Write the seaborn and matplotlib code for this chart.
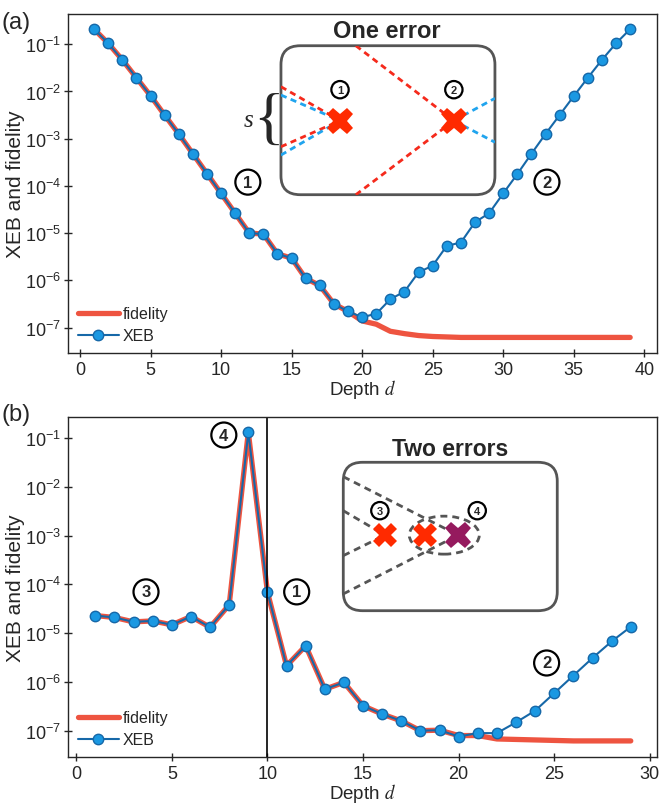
import numpy as np
import pandas as pd
import seaborn as sns
import matplotlib
matplotlib.use("Agg")
from matplotlib import pyplot as plt
from matplotlib.patches import FancyBboxPatch, Ellipse
from matplotlib.ticker import NullLocator

# ---- data (log10 values) ----
depth_a = np.arange(1, 40)
xeb_a_log = [-0.68, -0.98, -1.33, -1.71, -2.09, -2.50, -2.90, -3.32, -3.74, -4.16,
             -4.58, -5.00, -5.02, -5.44, -5.53, -5.96, -6.11, -6.50, -6.66, -6.78,
             -6.71, -6.40, -6.24, -5.83, -5.69, -5.27, -5.20, -4.77, -4.58, -4.16,
             -3.75, -3.32, -2.90, -2.50, -2.10, -1.71, -1.33, -0.98, -0.68]
fid_a_log = [-0.68, -0.98, -1.33, -1.71, -2.09, -2.50, -2.90, -3.32, -3.74, -4.16,
             -4.58, -5.00, -5.02, -5.44, -5.53, -5.96, -6.11, -6.50, -6.66, -6.86,
             -6.93, -7.08, -7.13, -7.17, -7.19, -7.20, -7.21, -7.21, -7.21, -7.21,
             -7.21, -7.21, -7.21, -7.21, -7.21, -7.21, -7.21, -7.21, -7.21]

depth_b = np.arange(1, 30)
xeb_b_log = [-4.64, -4.68, -4.77, -4.75, -4.83, -4.66, -4.88, -4.42, -0.88, -4.16,
             -5.67, -5.26, -6.15, -6.01, -6.49, -6.66, -6.80, -7.00, -6.99, -7.12,
             -7.05, -7.05, -6.83, -6.59, -6.23, -5.87, -5.51, -5.17, -4.87]
fid_b_log = [-4.64, -4.68, -4.77, -4.75, -4.83, -4.66, -4.88, -4.42, -0.88, -4.16,
             -5.67, -5.26, -6.15, -6.01, -6.49, -6.66, -6.80, -7.00, -6.99, -7.10,
             -7.10, -7.17, -7.18, -7.19, -7.20, -7.21, -7.21, -7.21, -7.21]

yticks = [1e-7, 1e-6, 1e-5, 1e-4, 1e-3, 1e-2, 1e-1]

df_a = pd.DataFrame({"depth": depth_a, "xeb": 10.0 ** np.array(xeb_a_log),
                     "fidelity": 10.0 ** np.array(fid_a_log)})
df_b = pd.DataFrame({"depth": depth_b, "xeb": 10.0 ** np.array(xeb_b_log),
                     "fidelity": 10.0 ** np.array(fid_b_log)})

RED = "#ee5440"
BLUE_LINE = "#1668a8"
BLUE_FACE = "#1a98e2"

sns.set_style("ticks")
plt.rcParams["font.family"] = ["Liberation Sans", "DejaVu Sans"]
plt.rcParams["mathtext.fontset"] = "stix"

fig = plt.figure(figsize=(6.62, 8.04), dpi=100)
ax1 = fig.add_axes([0.1027, 0.5597, 0.8897, 0.4216])
ax2 = fig.add_axes([0.1027, 0.0572, 0.8897, 0.4229])


def draw_panel(ax, df):
    sns.lineplot(data=df, x="depth", y="fidelity", ax=ax, color=RED, lw=3.8,
                 label="fidelity")
    sns.lineplot(data=df, x="depth", y="xeb", ax=ax, color=BLUE_LINE, lw=1.5,
                 marker="o", markersize=7.5, markerfacecolor=BLUE_FACE,
                 markeredgecolor=BLUE_LINE, markeredgewidth=1.0, label="XEB")
    ax.set_yscale("log")
    ax.set_yticks(yticks)
    ax.yaxis.set_minor_locator(NullLocator())
    ax.set_xlabel("Depth $d$", fontsize=13.5)
    ax.xaxis.set_label_coords(0.5, -0.07)
    ax.set_ylabel("XEB and fidelity", fontsize=15, labelpad=0)
    ax.tick_params(axis="both", labelsize=13, direction="inout", length=6, width=1)
    ax.tick_params(axis="y", pad=2)
    ax.tick_params(axis="x", pad=3)
    for s in ax.spines.values():
        s.set_linewidth(1.0)
    ax.legend(loc="lower left", frameon=False, fontsize=11.5, handlelength=2.6,
              handletextpad=0.2, borderaxespad=0.2, labelspacing=0.45)


def circ(ax, x, y, t, size=12, pad=0.3):
    ax.text(x, y, t, fontsize=size, fontweight="bold", ha="center", va="center",
            bbox=dict(boxstyle=f"circle,pad={pad}", fc="white", ec="black", lw=1.6))


# ---- panel (a) ----
draw_panel(ax1, df_a)
ax1.set_xlim(-0.85, 40.9)
ax1.set_ylim(10 ** -7.54, 10 ** -0.36)
ax1.set_xticks([0, 5, 10, 15, 20, 25, 30, 35, 40])
circ(ax1, 11.9, 1.2e-4, "1")
circ(ax1, 33.1, 1.2e-4, "2")

ins1 = ax1.inset_axes([0.3616, 0.467, 0.3633, 0.4395])
ins1.set_xlim(0, 1)
ins1.set_ylim(0, 1)
ins1.axis("off")
ins1.add_patch(FancyBboxPatch((0, 0), 1, 1, boxstyle="round,pad=0,rounding_size=0.09",
                              fc="white", ec="#555555", lw=2, transform=ins1.transAxes,
                              mutation_aspect=1.4, clip_on=False))
dash = dict(ls=(0, (2.2, 1.6)), lw=2)
x1, x2, yc = 0.276, 0.808, 0.497
for v in (0.725, 0.322):
    ins1.plot([0, x1], [v, yc], color="#f52a1c", **dash)
for v in (0.669, 0.266):
    ins1.plot([0, x1], [v, yc], color="#20a4ee", **dash)
ins1.plot([0.35, x2], [1.0, yc], color="#f52a1c", **dash)
ins1.plot([0.35, x2], [0.0, yc], color="#f52a1c", **dash)
for v in (0.647, 0.352):
    ins1.plot([x2, 1], [yc, v], color="#20a4ee", **dash)
ins1.plot([x1, x2], [yc, yc], ls="none", marker="X", markersize=19,
          color="#ff2a00", markeredgewidth=0)
circ(ins1, x1, 0.705, "1", size=8, pad=0.33)
circ(ins1, x2, 0.705, "2", size=8, pad=0.33)
ins1.text(0.494, 1.10, "One error", fontsize=17, fontweight="bold",
          ha="center", va="center")
ins1.text(-0.06, 0.49, "{", fontsize=46, ha="center", va="center",
          family="Liberation Serif")
ins1.text(-0.15, 0.50, "s", fontsize=18, ha="center", va="center",
          family="Liberation Serif", style="italic")

# ---- panel (b) ----
draw_panel(ax2, df_b)
ax2.set_xlim(-0.43, 30.37)
ax2.set_ylim(10 ** -7.54, 10 ** -0.57)
ax2.set_xticks([0, 5, 10, 15, 20, 25, 30])
ax2.axvline(10, color="black", lw=1.2)
circ(ax2, 3.65, 7e-5, "3")
circ(ax2, 7.72, 0.115, "4")
circ(ax2, 11.53, 7e-5, "1")
circ(ax2, 24.6, 2.44e-6, "2")

ins2 = ax2.inset_axes([0.4674, 0.4303, 0.3633, 0.4365])
ins2.set_xlim(0, 1)
ins2.set_ylim(0, 1)
ins2.axis("off")
ins2.add_patch(FancyBboxPatch((0, 0), 1, 1, boxstyle="round,pad=0,rounding_size=0.09",
                              fc="white", ec="#555555", lw=2, transform=ins2.transAxes,
                              mutation_aspect=1.4, clip_on=False))
u3, um, up, yc2 = 0.195, 0.382, 0.537, 0.509
gdash = dict(color="#555555", ls=(0, (2.5, 1.8)), lw=2)
for v in (0.674, 0.371):
    ins2.plot([0, u3], [v, yc2], **gdash)
for v in (0.903, 0.113):
    ins2.plot([0, up], [v, yc2], **gdash)
ins2.add_patch(Ellipse((0.472, yc2), 0.327, 0.256, fill=False, **gdash))
ins2.plot([u3, um], [yc2, yc2], ls="none", marker="X", markersize=17,
          color="#ff2a00", markeredgewidth=0)
ins2.plot([up], [yc2], ls="none", marker="X", markersize=19,
          color="#951a5e", markeredgewidth=0)
circ(ins2, 0.171, 0.674, "3", size=8, pad=0.33)
circ(ins2, 0.626, 0.674, "4", size=8, pad=0.33)
ins2.text(0.499, 1.094, "Two errors", fontsize=16.5, fontweight="bold",
          ha="center", va="center")

fig.text(0.003, 0.972, "(a)", fontsize=17, va="center")
fig.text(0.003, 0.484, "(b)", fontsize=17, va="center")

fig.savefig("out.png", dpi=100)
